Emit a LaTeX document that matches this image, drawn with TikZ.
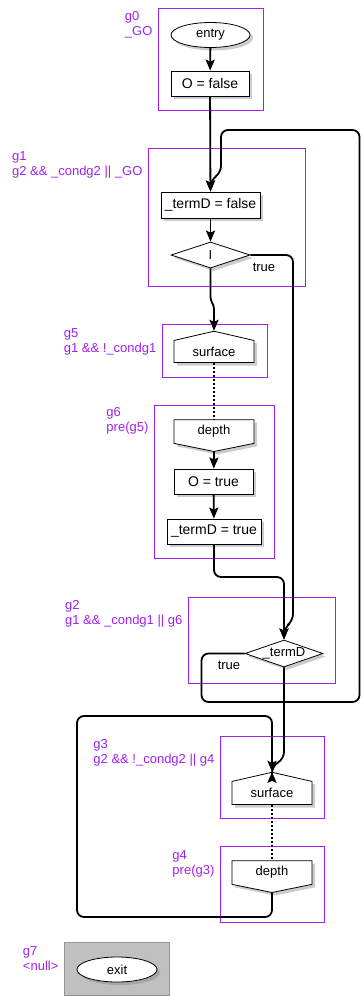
\documentclass[tikz,border=0pt]{standalone}
\usepackage{fontspec}
\setmainfont{Liberation Sans}
\usetikzlibrary{arrows.meta, shapes.geometric, shapes.symbols, shadows}
\definecolor{grppurple}{RGB}{160, 32, 240}
\definecolor{nullfill}{RGB}{192, 192, 192}
\definecolor{nullline}{RGB}{150, 150, 150}

\begin{document}
\begin{tikzpicture}[
    x=1pt, y=-1pt,
    font=\fontsize{13}{15}\selectfont,
    shade/.style={drop shadow={shadow xshift=3pt, shadow yshift=-3pt, opacity=0.4}},
    stmt/.style={rectangle, draw, fill=white, shade, line width=0.8pt, inner sep=0pt, minimum height=25pt, font=\fontsize{14}{16}\selectfont},
    term/.style={ellipse, draw, fill=white, shade, line width=0.8pt, inner sep=0pt, minimum width=79pt, minimum height=25pt},
    test/.style={diamond, draw, fill=white, shade, line width=0.8pt, inner sep=0pt, minimum width=79pt, minimum height=26pt},
    surf/.style={signal, signal to=north, signal pointer angle=154, draw, fill=white, shade, line width=0.8pt, inner sep=0pt, minimum width=80pt, minimum height=27pt},
    dpth/.style={signal, signal to=south, signal pointer angle=157, draw, fill=white, shade, line width=0.8pt, inner sep=0pt, minimum width=80pt, minimum height=27pt},
    grp/.style={rectangle, draw=grppurple, line width=0.8pt, inner sep=0pt},
    grplabel/.style={text=grppurple, align=left, anchor=north east, inner sep=0pt},
    edge/.style={-{Stealth[length=11pt, width=9pt, inset=2pt]}, line width=1.8pt, rounded corners=7pt},
    pre/.style={line width=1.8pt, dash pattern=on 2pt off 2pt}
]
    \useasboundingbox (0,0) rectangle (362,996);

    % Groups
    \node[grp, minimum width=105pt, minimum height=102pt] (g0) at (210.5, 59) {};
    \node[grp, minimum width=157pt, minimum height=138pt] (g1) at (226.5, 217) {};
    \node[grp, minimum width=105pt, minimum height=53pt] (g5) at (214.5, 350.5) {};
    \node[grp, minimum width=120pt, minimum height=153pt] (g6) at (214, 481.5) {};
    \node[grp, minimum width=147pt, minimum height=86pt] (g2) at (261.5, 640) {};
    \node[grp, minimum width=104pt, minimum height=82pt] (g3) at (272, 777) {};
    \node[grp, minimum width=104pt, minimum height=76pt] (g4) at (272, 884) {};
    \node[grp, draw=nullline, fill=nullfill, minimum width=105pt, minimum height=53pt] (g7) at (116.5, 968.5) {};

    % Group labels
    \node[grplabel] (g0lab) at ([xshift=-5pt, yshift=-4pt]g0.north west) {g0\\\_GO};
    \node[grplabel] (g1lab) at ([xshift=-5pt, yshift=-4pt]g1.north west) {g1\\g2 \&\& \_condg2 || \_GO};
    \node[grplabel] (g5lab) at ([xshift=-5pt, yshift=-5pt]g5.north west) {g5\\g1 \&\& !\_condg1};
    \node[grplabel] (g6lab) at ([xshift=-5pt, yshift=-3pt]g6.north west) {g6\\pre(g5)};
    \node[grplabel] (g2lab) at ([xshift=-5pt, yshift=-4pt]g2.north west) {g2\\g1 \&\& \_condg1 || g6};
    \node[grplabel] (g3lab) at ([xshift=-5pt, yshift=-4pt]g3.north west) {g3\\g2 \&\& !\_condg2 || g4};
    \node[grplabel] (g4lab) at ([xshift=-5pt, yshift=-5pt]g4.north west) {g4\\pre(g3)};
    \node[grplabel] (g7lab) at ([xshift=-5pt, yshift=-5pt]g7.north west) {g7\\<null>};

    % Nodes
    \node[term] (entry) at (210.5, 35) {entry};
    \node[stmt, minimum width=78pt] (ofalse) at (210, 83.5) {O = false};
    \node[stmt, minimum width=99pt, minimum height=26pt] (termF) at (210.5, 205) {\_termD = false};
    \node[test] (testI) at (210.5, 255) {\makebox[0pt]{I}};
    \node[surf] (surfA) at (214, 351.5) {surface};
    \node[dpth] (depthA) at (214, 431.5) {depth};
    \node[stmt, minimum width=79pt] (otrue) at (213.5, 481.5) {O = true};
    \node[stmt, minimum width=94pt] (termT) at (214, 531.5) {\_termD = true};
    \node[test, minimum width=78pt, minimum height=27pt] (testD) at (284, 653.5) {\makebox[0pt]{\_termD}};
    \node[surf, minimum height=28pt] (surfB) at (272, 793) {surface};
    \node[dpth] (depthB) at (272, 872.5) {depth};
    \node[term, minimum width=80pt] (exit) at (117, 969.5) {exit};

    % Edge labels
    \node (trueI) at (264, 267.5) {true};
    \node (trueD) at (229, 665) {true};

    % Edges
    \draw[edge] (entry) -- (ofalse);
    \draw[edge] (ofalse) -- (termF);
    \draw[edge] (termF) -- (testI);
    \draw[edge] (testI.east) -- (293, 255) -- (293, 621) -- (284, 628) -- (testD.north);
    \draw[edge, rounded corners=3pt] (testI.south) -- (210.5, 300) -- (214, 306) -- (surfA.north);
    \draw[pre] (surfA.south) -- (depthA.north);
    \draw[edge] (depthA.south) -- (otrue);
    \draw[edge] (otrue) -- (termT);
    \draw[edge] (termT.south) -- (214, 577) -- (284, 577) -- (testD.north);
    \draw[edge] (testD.west) -- (201.5, 653.5) -- (201.5, 702) -- (359.5, 702)
        -- (359.5, 130) -- (221, 130) -- (221, 173) -- (210.5, 180) -- (termF.north);
    \draw[edge] (testD.south) -- (284, 759) -- (272, 766) -- (surfB.north);
    \draw[pre] (surfB.south) -- (depthB.north);
    \draw[edge] (depthB.south) -- (272, 917) -- (77, 917) -- (77, 716) -- (272, 716) -- (surfB.north);
\end{tikzpicture}
\end{document}
